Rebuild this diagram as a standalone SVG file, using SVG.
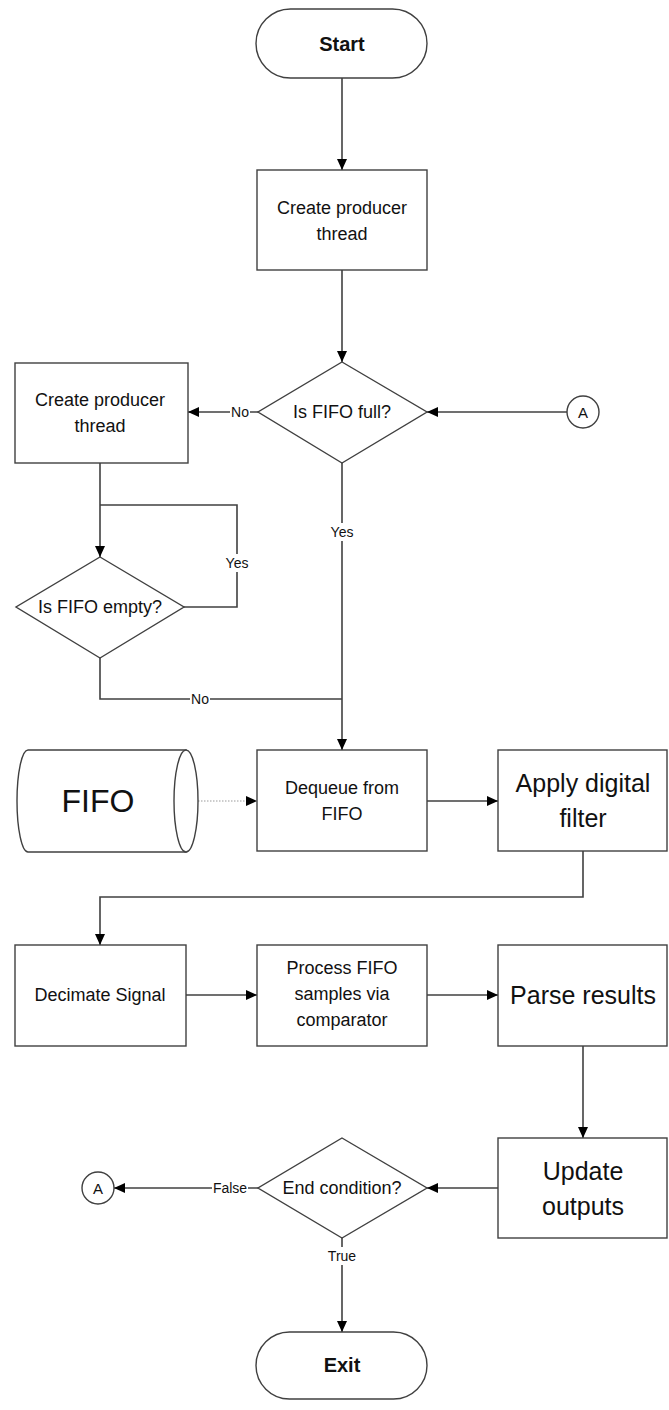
<svg xmlns="http://www.w3.org/2000/svg" width="669" height="1410" viewBox="0 0 669 1410">
  <defs>
    <marker id="arrow" markerUnits="userSpaceOnUse" markerWidth="11" markerHeight="10" refX="11" refY="5" orient="auto">
      <path d="M0,0 L11,5 L0,10 Z" fill="#000"/>
    </marker>
    <style>
      .shape { fill: #fff; stroke: #404040; stroke-width: 1.4; }
      .conn { fill: none; stroke: #404040; stroke-width: 1.6; }
      .dotted { fill: none; stroke: #9a9a9a; stroke-width: 1.2; stroke-dasharray: 1.5 1.5; }
      .txt { font-family: "Liberation Sans", Arial, sans-serif; font-size: 18px; fill: #111; text-anchor: middle; dominant-baseline: central; }
      .big { font-size: 25px; }
      .term { font-weight: bold; font-size: 20px; }
      .lbl { font-family: "Liberation Sans", Arial, sans-serif; font-size: 14px; fill: #111; text-anchor: middle; dominant-baseline: central; }
      .lblbg { fill: #fff; }
    </style>
  </defs>
  <rect width="669" height="1410" fill="#fff"/>

  <!-- connectors -->
  <g id="connectors">
    <path class="conn" d="M342,78 V170" marker-end="url(#arrow)"/>
    <path class="conn" d="M342,270 V362" marker-end="url(#arrow)"/>
    <path class="conn" d="M567,412 H427" marker-end="url(#arrow)"/>
    <path class="conn" d="M258,412 H188" marker-end="url(#arrow)"/>
    <path class="conn" d="M342,463 V750" marker-end="url(#arrow)"/>
    <path class="conn" d="M100,463 V557" marker-end="url(#arrow)"/>
    <path class="conn" d="M184,607 H237 V505 H100"/>
    <path class="conn" d="M100,658 V699 H342"/>
    <path class="dotted" d="M186,801 H257" marker-end="url(#arrow)"/>
    <path class="conn" d="M427,801 H498" marker-end="url(#arrow)"/>
    <path class="conn" d="M583,851 V897 H100 V945" marker-end="url(#arrow)"/>
    <path class="conn" d="M186,995 H257" marker-end="url(#arrow)"/>
    <path class="conn" d="M427,995 H498" marker-end="url(#arrow)"/>
    <path class="conn" d="M583,1046 V1138" marker-end="url(#arrow)"/>
    <path class="conn" d="M498,1188 H427" marker-end="url(#arrow)"/>
    <path class="conn" d="M258,1188 H114" marker-end="url(#arrow)"/>
    <path class="conn" d="M342,1238 V1332" marker-end="url(#arrow)"/>

    <!-- branch labels -->
    <rect class="lblbg" x="230" y="404" width="20" height="16"/>
    <text class="lbl" x="240" y="412">No</text>
    <rect class="lblbg" x="328" y="523" width="28" height="18"/>
    <text class="lbl" x="342" y="532">Yes</text>
    <rect class="lblbg" x="223" y="554" width="28" height="18"/>
    <text class="lbl" x="237" y="563">Yes</text>
    <rect class="lblbg" x="190" y="691" width="20" height="16"/>
    <text class="lbl" x="200" y="699">No</text>
    <rect class="lblbg" x="212" y="1180" width="36" height="16"/>
    <text class="lbl" x="230" y="1188">False</text>
    <rect class="lblbg" x="326" y="1247" width="32" height="18"/>
    <text class="lbl" x="342" y="1256">True</text>
  </g>

  <!-- nodes -->
  <g id="start">
    <rect class="shape" x="256" y="9" width="171" height="69" rx="34.5"/>
    <text class="txt term" x="342" y="44">Start</text>
  </g>
  <g id="create-thread-main">
    <rect class="shape" x="257" y="170" width="170" height="100"/>
    <text class="txt" x="342" y="208">Create producer</text>
    <text class="txt" x="342" y="234">thread</text>
  </g>
  <g id="fifo-full">
    <polygon class="shape" points="342,362 427,412 342,463 258,412"/>
    <text class="txt" x="342" y="412">Is FIFO full?</text>
  </g>
  <g id="connector-a-top">
    <circle class="shape" cx="583" cy="412" r="16"/>
    <text class="lbl" x="583" y="412" style="font-size:15px">A</text>
  </g>
  <g id="create-thread-side">
    <rect class="shape" x="15" y="363" width="173" height="100"/>
    <text class="txt" x="100" y="400">Create producer</text>
    <text class="txt" x="100" y="426">thread</text>
  </g>
  <g id="fifo-empty">
    <polygon class="shape" points="100,557 184,607 100,658 16,607"/>
    <text class="txt" x="100" y="607">Is FIFO empty?</text>
  </g>
  <g id="fifo-store">
    <path class="shape" d="M28,750 H186 V852 H28 A11,51 0 0 1 28,750 Z"/>
    <ellipse class="shape" cx="186" cy="801" rx="12" ry="51"/>
    <text class="txt" x="98" y="801" style="font-size:32px">FIFO</text>
  </g>
  <g id="dequeue">
    <rect class="shape" x="257" y="750" width="170" height="101"/>
    <text class="txt" x="342" y="788">Dequeue from</text>
    <text class="txt" x="342" y="814">FIFO</text>
  </g>
  <g id="apply-filter">
    <rect class="shape" x="498" y="750" width="169" height="101"/>
    <text class="txt big" x="583" y="783">Apply digital</text>
    <text class="txt big" x="583" y="818">filter</text>
  </g>
  <g id="decimate">
    <rect class="shape" x="15" y="945" width="171" height="101"/>
    <text class="txt" x="100" y="995">Decimate Signal</text>
  </g>
  <g id="process">
    <rect class="shape" x="257" y="945" width="170" height="101"/>
    <text class="txt" x="342" y="968">Process FIFO</text>
    <text class="txt" x="342" y="994">samples via</text>
    <text class="txt" x="342" y="1020">comparator</text>
  </g>
  <g id="parse">
    <rect class="shape" x="498" y="945" width="169" height="101"/>
    <text class="txt big" x="583" y="995">Parse results</text>
  </g>
  <g id="update">
    <rect class="shape" x="498" y="1138" width="169" height="100"/>
    <text class="txt big" x="583" y="1171">Update</text>
    <text class="txt big" x="583" y="1206">outputs</text>
  </g>
  <g id="end-condition">
    <polygon class="shape" points="342,1138 427,1188 342,1238 258,1188"/>
    <text class="txt" x="342" y="1188">End condition?</text>
  </g>
  <g id="connector-a-bottom">
    <circle class="shape" cx="98" cy="1188" r="16"/>
    <text class="lbl" x="98" y="1188" style="font-size:15px">A</text>
  </g>
  <g id="exit">
    <rect class="shape" x="256" y="1332" width="171" height="67" rx="33.5"/>
    <text class="txt term" x="342" y="1365">Exit</text>
  </g>
</svg>
